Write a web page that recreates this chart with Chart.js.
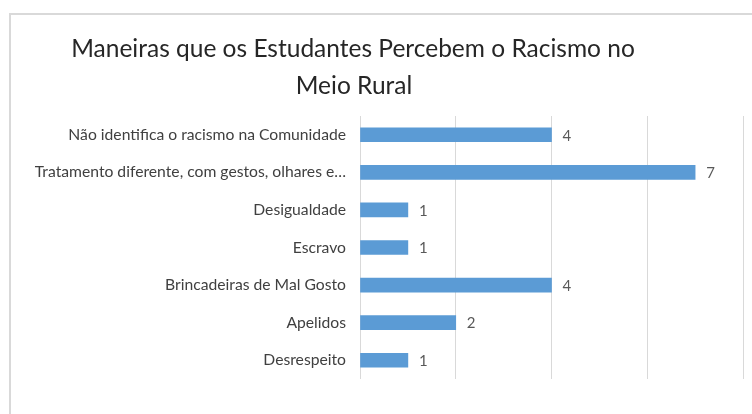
<!DOCTYPE html>
<html>
<head>
<meta charset="utf-8">
<script src="https://cdn.jsdelivr.net/npm/chart.js@4"></script>
<style>
  html, body { margin: 0; padding: 0; background: #fff; }
  #wrap { position: relative; width: 752px; height: 414px; overflow: hidden; }
  #frame { position: absolute; left: 9px; top: 13px; width: 760px; height: 420px;
           border-left: 2px solid #d9d9d9; border-top: 2px solid #d9d9d9; }
  #chart { position: absolute; left: 0; top: 0; }
</style>
</head>
<body>
<div id="wrap">
  <div id="frame"></div>
  <canvas id="chart" width="752" height="414"></canvas>
</div>
<script>
  const titleLines = ["Maneiras que os Estudantes Percebem o Racismo no", "Meio Rural"];
  const categories = [
    "Não identifica o racismo na Comunidade",
    "Tratamento diferente, com gestos, olhares e…",
    "Desigualdade",
    "Escravo",
    "Brincadeiras de Mal Gosto",
    "Apelidos",
    "Desrespeito"
  ];
  const values = [4, 7, 1, 1, 4, 2, 1];
  const axisMax = 8;
  const axisStep = 2;

  const fontFamily = "Lato, 'Liberation Sans Narrow', sans-serif";

  // title drawn by hand so it can sit off-centre like the original
  const titlePlugin = {
    id: "offTitle",
    afterDraw(chart) {
      const ctx = chart.ctx;
      ctx.save();
      ctx.fillStyle = "#262626";
      ctx.font = "24.5px " + fontFamily;
      ctx.textAlign = "center";
      ctx.textBaseline = "middle";
      ctx.fillText(titleLines[0], 353, 49);
      ctx.fillText(titleLines[1], 354, 86);
      ctx.restore();
    }
  };

  const valueLabels = {
    id: "valueLabels",
    afterDatasetsDraw(chart) {
      const ctx = chart.ctx;
      const meta = chart.getDatasetMeta(0);
      ctx.save();
      ctx.fillStyle = "#595959";
      ctx.font = "15px " + fontFamily;
      ctx.textAlign = "left";
      ctx.textBaseline = "middle";
      meta.data.forEach((bar, i) => {
        ctx.fillText(String(values[i]), bar.x + 11, bar.y + 1);
      });
      ctx.restore();
    }
  };

  new Chart(document.getElementById("chart"), {
    type: "bar",
    data: {
      labels: categories,
      datasets: [{
        data: values,
        backgroundColor: "#5b9bd5",
        barThickness: 14
      }]
    },
    options: {
      indexAxis: "y",
      responsive: false,
      animation: false,
      layout: { padding: { left: 0, right: 9, top: 116, bottom: 35 } },
      plugins: {
        legend: { display: false },
        tooltip: { enabled: false },
        title: { display: false }
      },
      scales: {
        x: {
          min: 0,
          max: axisMax,
          ticks: { display: false, stepSize: axisStep },
          grid: { color: "#d9d9d9", drawTicks: false },
          border: { display: false },
          afterFit(scale) { scale.height = 0; }
        },
        y: {
          ticks: {
            color: "#404040",
            font: { family: fontFamily, size: 15.7 },
            padding: 14
          },
          grid: { display: false, drawTicks: false },
          border: { display: false },
          afterFit(scale) { scale.width = 360; }
        }
      }
    },
    plugins: [titlePlugin, valueLabels]
  });
</script>
</body>
</html>
